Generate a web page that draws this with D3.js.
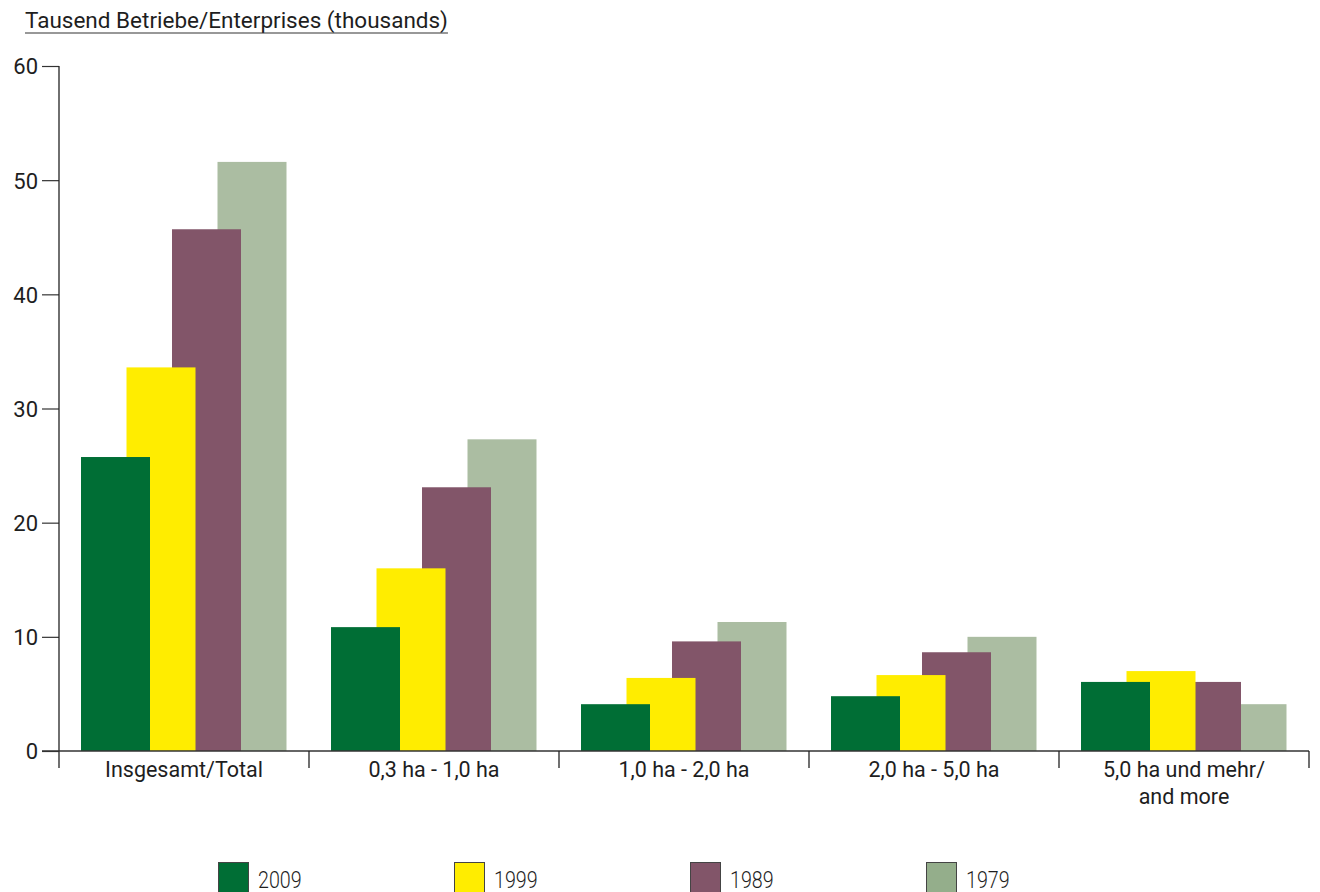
<!DOCTYPE html>
<html>
<head>
<meta charset="utf-8">
<script src="https://cdn.jsdelivr.net/npm/d3@7"></script>
<style>
  html, body { margin: 0; padding: 0; background: #fff; }
  svg { display: block; }
  text { font-family: Roboto, "DejaVu Sans", sans-serif; fill: #1e1e1e; }
</style>
</head>
<body>
<svg id="chart" width="1320" height="892"></svg>
<script>
const categories = ["Insgesamt/Total", "0,3 ha - 1,0 ha", "1,0 ha - 2,0 ha", "2,0 ha - 5,0 ha", "5,0 ha und mehr/\nand more"];
const years = ["2009", "1999", "1989", "1979"];
const values2009 = [25.75, 10.85, 4.1, 4.8, 6.05];
const values1999 = [33.6, 16.0, 6.4, 6.65, 7.0];
const values1989 = [45.7, 23.1, 9.6, 8.65, 6.05];
const values1979 = [51.6, 27.3, 11.3, 10.0, 4.1];
const seriesValues = [values2009, values1999, values1989, values1979];
const colors = ["#006e35", "#ffed00", "#825569", "#abbda2"];
const legendColors = ["#006e35", "#ffed00", "#825569", "#94ae8b"];
const yTicks = [0, 10, 20, 30, 40, 50, 60];
const title = "Tausend Betriebe/Enterprises (thousands)";

const svg = d3.select("#chart");
const x0 = 59, x1 = 1309, yBottom = 751, yTop = 66;

const x = d3.scaleBand().domain(categories).range([x0, x1]).paddingInner(0).paddingOuter(0);
const y = d3.scaleLinear().domain([0, 60]).range([yBottom, yTop]);
// bar offsets within a band (overlapping bars)
const inner = d3.scaleBand().domain(years).range([22, 22 + 4 * 45.5]).paddingInner(0);
const barW = 69;

// Bars: draw back (1979) to front (2009)
for (let s = years.length - 1; s >= 0; s--) {
  svg.append("g").selectAll("rect")
    .data(categories.map((c, i) => ({ c, v: seriesValues[s][i] })))
    .join("rect")
    .attr("x", d => x(d.c) + inner(years[s]))
    .attr("width", barW)
    .attr("y", d => y(d.v))
    .attr("height", d => y(0) - y(d.v))
    .attr("fill", colors[s]);
}

// Y axis
const yAxis = d3.axisLeft(y).tickValues(yTicks).tickSize(17).tickPadding(4).tickSizeOuter(0);
const gy = svg.append("g").attr("transform", `translate(${x0},0)`).call(yAxis);
gy.select(".domain").remove();
gy.selectAll(".tick line").attr("stroke", "#333").attr("stroke-width", 1.2);
gy.selectAll(".tick text").style("font-size", "22px").style("font-family", "Roboto, sans-serif")
  .attr("fill", "#1e1e1e").attr("dy", "0.36em");
svg.append("line").attr("x1", x0).attr("x2", x0).attr("y1", yTop).attr("y2", yBottom + 17)
  .attr("stroke", "#222").attr("stroke-width", 1.3);

// X axis
svg.append("line").attr("x1", x0 - 17).attr("x2", x1).attr("y1", yBottom).attr("y2", yBottom)
  .attr("stroke", "#333").attr("stroke-width", 1.3);
const boundaries = categories.map(c => x(c) + x.bandwidth());
svg.append("g").selectAll("line").data(boundaries).join("line")
  .attr("x1", d => d).attr("x2", d => d).attr("y1", yBottom).attr("y2", yBottom + 17)
  .attr("stroke", "#222").attr("stroke-width", 1.3);

const labels = svg.append("g").selectAll("text").data(categories).join("text")
  .attr("x", d => x(d) + x.bandwidth() / 2)
  .attr("y", 777)
  .attr("text-anchor", "middle")
  .style("font-size", "21.5px");
labels.each(function(d) {
  const parts = d.split("\n");
  d3.select(this).selectAll("tspan").data(parts).join("tspan")
    .attr("x", x(d) + x.bandwidth() / 2)
    .attr("dy", (p, i) => i === 0 ? 0 : 27)
    .text(p => p);
});

// Title
const t = svg.append("text").attr("x", 25).attr("y", 28).style("font-size", "22.5px").text(title);
const tw = t.node().getComputedTextLength();
svg.append("line").attr("x1", 25).attr("x2", 25 + tw).attr("y1", 33).attr("y2", 33)
  .attr("stroke", "#333").attr("stroke-width", 1.2);

// Legend
const legendX = d3.scaleOrdinal().domain(years).range([218, 454, 690, 926]);
const lg = svg.append("g").selectAll("g").data(years).join("g")
  .attr("transform", d => `translate(${legendX(d)},862)`);
lg.append("rect").attr("x", 0.5).attr("y", 0.5).attr("width", 30).attr("height", 32)
  .attr("fill", (d, i) => legendColors[i]).attr("stroke", "#444").attr("stroke-width", 1);
lg.append("text").attr("transform", "translate(40,26) scale(0.82,1)")
  .style("font-size", "24px").style("font-weight", 300)
  .text(d => d);
</script>
</body>
</html>
